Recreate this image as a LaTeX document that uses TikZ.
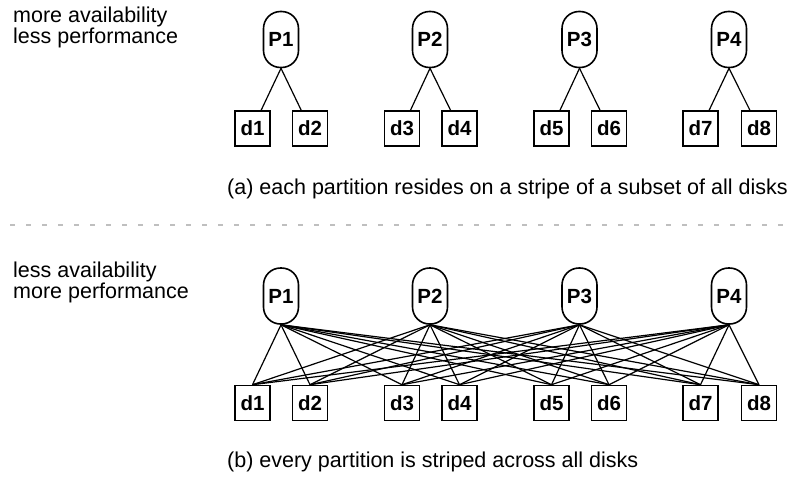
\documentclass[tikz,border=0pt]{standalone}
\usepackage{fontspec}
\setmainfont{Liberation Sans}
\begin{document}
\begin{tikzpicture}[x=1pt,y=-1pt,
  part/.style={draw,line width=1.6pt,rectangle,rounded corners=17pt,minimum width=35pt,minimum height=56pt,inner sep=0pt,font=\fontsize{20.5}{24}\selectfont\bfseries},
  disk/.style={draw,line width=1.6pt,rectangle,minimum width=35pt,minimum height=35pt,inner sep=0pt,font=\fontsize{20.5}{24}\selectfont\bfseries},
  lbl/.style={anchor=base west,inner sep=0pt,font=\fontsize{21.5}{24}\selectfont},
  conn/.style={line width=1.2pt}]
\useasboundingbox (0,0) rectangle (792,477);
% labels
\node[lbl] (t1) at (13,22) {more availability};
\node[lbl] (t2) at (13,43) {less performance};
\node[lbl] (t3) at (13,277) {less availability};
\node[lbl] (t4) at (13,298) {more performance};
\node[lbl] (ca) at (227,194) {(a) each partition resides on a stripe of a subset of all disks};
\node[lbl] (cb) at (227,467) {(b) every partition is striped across all disks};
% separator
\coordinate (s1) at (10,225);
\coordinate (s2) at (790,225);
\draw[gray!50,line width=2pt,dash pattern=on 5pt off 11pt] (s1) -- (s2);
% top diagram
\foreach \i/\x in {1/281,2/430,3/579.5,4/729}{
  \node[part] (A\i) at (\x,39.5) {P\i};
}
\foreach \j/\x in {1/252.5,2/310,3/402,4/459.5,5/551.5,6/609,7/700.5,8/759}{
  \node[disk] (a\j) at (\x,128.5) {d\j};
}
\foreach \i/\j/\k in {1/1/2,2/3/4,3/5/6,4/7/8}{
  \draw[conn] (A\i.south) -- (a\j);
  \draw[conn] (A\i.south) -- (a\k);
}
% bottom diagram
\foreach \i/\x in {1/281,2/430,3/579.5,4/729}{
  \node[part] (B\i) at (\x,296) {P\i};
}
\foreach \j/\x in {1/252.5,2/310,3/402,4/459.5,5/551.5,6/609,7/700.5,8/759}{
  \node[disk] (b\j) at (\x,403) {d\j};
}
\foreach \i in {1,...,4}{
  \foreach \j in {1,...,8}{
    \draw[conn] (B\i.south) -- (b\j.north);
  }
}
\end{tikzpicture}
\end{document}
